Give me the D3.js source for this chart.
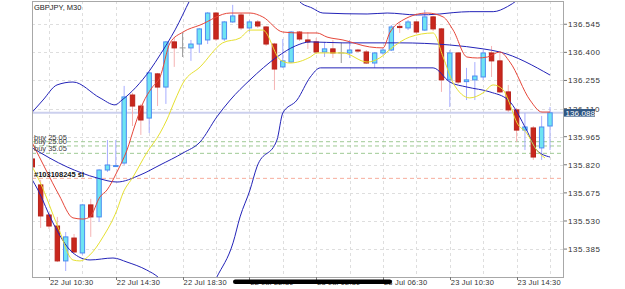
<!DOCTYPE html>
<html>
<head>
<meta charset="utf-8">
<script src="https://cdn.jsdelivr.net/npm/d3@7"></script>
<style>
  body { margin: 0; background: #fff; }
  svg { display: block; font-family: "Liberation Sans", Arial, sans-serif; }
</style>
</head>
<body>
<div id="chart"></div>
<script>
// GBPJPY M30 candles, 22 Jul 09:30 .. 23 Jul 16:30 (index 0 = first bar)
const symbol = "GBPJPY, M30";
const opens  = [135.850,135.716,135.561,135.504,135.324,135.442,135.365,135.613,135.551,135.793,
                135.811,135.829,136.180,136.123,136.061,136.289,136.221,136.454,136.423,136.423,
                136.443,136.464,136.603,136.469,136.557,136.593,136.526,136.557,136.531,136.443,
                136.325,136.350,136.505,136.464,136.454,136.402,136.418,136.397,136.397,136.412,
                136.402,136.345,136.397,136.412,136.534,136.526,136.557,136.515,136.583,136.521,
                136.258,136.397,136.249,136.258,136.273,136.397,136.356,136.196,136.103,135.999,
                136.010,135.907,136.020];
const highs  = [135.865,135.742,135.571,135.551,135.473,135.463,135.618,135.644,135.798,135.948,
                135.948,136.227,136.191,136.134,136.299,136.294,136.459,136.479,136.500,136.464,
                136.526,136.608,136.608,136.562,136.645,136.603,136.567,136.567,136.536,136.449,
                136.469,136.510,136.510,136.505,136.474,136.454,136.464,136.449,136.464,136.418,
                136.412,136.402,136.423,136.541,136.557,136.567,136.562,136.619,136.588,136.526,
                136.412,136.402,136.320,136.350,136.412,136.433,136.397,136.232,136.113,136.087,
                136.020,136.072,136.118];
const lows   = [135.798,135.494,135.489,135.318,135.272,135.365,135.355,135.448,135.525,135.783,
                135.809,135.819,136.020,135.974,135.984,136.123,136.134,136.325,136.376,136.356,
                136.397,136.443,136.459,136.459,136.552,136.515,136.505,136.526,136.433,136.206,
                136.320,136.345,136.459,136.418,136.392,136.376,136.371,136.345,136.371,136.402,
                136.340,136.320,136.387,136.407,136.500,136.515,136.495,136.510,136.510,136.196,
                136.118,136.237,136.154,136.154,136.258,136.273,136.191,136.092,135.938,135.896,
                135.845,135.845,135.896];
const closes = [135.809,135.556,135.504,135.324,135.448,135.370,135.613,135.551,135.793,135.819,
                135.816,136.170,136.123,136.051,136.294,136.221,136.454,136.423,136.423,136.443,
                136.521,136.603,136.469,136.557,136.588,136.526,136.557,136.536,136.443,136.314,
                136.356,136.505,136.469,136.454,136.402,136.418,136.397,136.397,136.412,136.407,
                136.345,136.397,136.412,136.531,136.528,136.557,136.505,136.583,136.521,136.258,
                136.397,136.247,136.258,136.278,136.397,136.356,136.196,136.103,135.999,136.015,
                135.860,136.015,136.088];

// indicator lines, [bar index, price]
const maFast = [[0,135.933],[1.64,135.793],[3.2,135.664],[4.87,135.546],[6.07,135.540],[6.9,135.551],
  [8.1,135.654],[8.95,135.690],[10.14,135.783],[11.34,135.896],[12.3,136.025],[13.26,136.139],
  [14.3,136.216],[15.3,136.273],[16.5,136.449],[18.05,136.505],[20.1,136.541],[23.7,136.603],
  [26.07,136.603],[27.6,136.583],[30,136.505],[32.06,136.500],[34.1,136.500],[35.3,136.479],
  [37.2,136.464],[40.4,136.428],[42,136.423],[42.8,136.500],[44.4,136.567],[47.3,136.603],
  [49.2,136.583],[50.4,136.515],[52.06,136.376],[53.3,136.371],[54.5,136.376],[56,136.402],
  [57.2,136.350],[59.6,136.154],[61.04,136.092],[62,136.092]];
const maSlow = [[0,135.809],[0.92,135.731],[3.08,135.499],[4.87,135.329],[5.7,135.324],[6.9,135.355],
  [8.47,135.448],[10.14,135.587],[10.87,135.675],[12.06,135.757],[13.7,135.881],[15.3,135.984],
  [16.1,136.051],[17.1,136.154],[18.05,136.242],[20.1,136.325],[22.8,136.449],[24.88,136.474],
  [26.07,136.515],[27.6,136.515],[29.7,136.361],[30.86,136.345],[33.3,136.376],[34.1,136.397],
  [37.2,136.397],[40.1,136.350],[41.6,136.371],[43.2,136.428],[45.2,136.479],[48,136.500],
  [49.2,136.376],[50.4,136.242],[52.4,136.165],[53.98,136.191],[55.2,136.232],[56.4,136.206],
  [57,136.154],[58.05,136.036],[59.2,135.984],[60.4,135.896],[61.4,135.855]];
const bbUpper = [[0,136.092],[1.28,136.154],[2.96,136.232],[4.87,136.247],[8.11,136.165],[9.9,136.129],
  [10.74,136.154],[14.1,136.309],[15.3,136.387],[17.1,136.516],[18.88,136.670],[19.5,136.722],
  [31.3,136.722],[32.06,136.660],[33.5,136.629],[34.8,136.603],[40.1,136.598],[42.5,136.603],
  [46.1,136.593],[48.8,136.598],[50.4,136.605],[52.4,136.610],[55.2,136.610],[56.9,136.636],
  [58.1,136.670],[59.6,136.732]];
const bbMiddle = [[0,135.907],[4.16,135.809],[7.75,135.752],[10.14,135.731],[12.9,135.767],[15.3,135.819],
  [18.05,135.881],[20.1,135.938],[22.1,136.067],[23.7,136.154],[26.07,136.258],[29.3,136.376],
  [31.5,136.433],[33.3,136.454],[37.2,136.449],[44,136.449],[50,136.438],[53.98,136.418],
  [56,136.402],[62,136.283]];
const bbLower = [[0,135.742],[0.68,135.690],[2.48,135.520],[4.75,135.370],[6.91,135.329],[9.66,135.339],
  [11.34,135.318],[13.7,135.277],[15.05,135.241],[16.5,135.174],[21.3,135.174],[22.1,135.241],
  [24.04,135.417],[24.88,135.551],[26.07,135.690],[26.9,135.809],[29.3,135.948],[30,136.087],
  [31.7,136.154],[33.3,136.273],[34.5,136.320],[40.1,136.320],[48,136.320],[50,136.247],
  [52.06,136.221],[54.8,136.196],[57,136.154],[59.2,135.999],[60.4,135.896],[62,135.860]];

const priceTicks = [136.545, 136.400, 136.255, 136.110, 135.965, 135.820, 135.675, 135.530, 135.385];
const timeTickIdx = [2, 10, 18, 26, 34, 42, 50, 58];
const timeLabels = ["22 Jul 10:30", "22 Jul 14:30", "22 Jul 18:30", "22 Jul 22:30",
                    "23 Jul 02:30", "23 Jul 06:30", "23 Jul 10:30", "23 Jul 14:30"];
const lastPrice = 136.088;
const orderLevels = [135.939, 135.917, 135.879];
const orderLabels = ["buy 25.05", "buy 25.00", "buy 35.05"];
const slLevel = 135.750;
const slLabel = "#103108245 sl";

const width = 625, height = 289;
const plot = { left: 32, right: 564, top: 1, bottom: 277 };

const x = d3.scaleLinear().domain([0, 62]).range([32.3, 550]);
const y = d3.scaleLinear().domain([135.241, 136.665]).range([plot.bottom, plot.top]);

const svg = d3.select("#chart").append("svg")
    .attr("width", width)
    .attr("height", height);

svg.append("defs").append("clipPath").attr("id", "clip")
    .append("rect")
    .attr("x", plot.left).attr("y", plot.top)
    .attr("width", plot.right - plot.left).attr("height", plot.bottom - plot.top);

// grid
const grid = svg.append("g").attr("stroke", "#dedede").attr("stroke-dasharray", "3,3");
grid.selectAll(".hg").data(priceTicks).join("line")
    .attr("x1", plot.left).attr("x2", plot.right)
    .attr("y1", d => Math.round(y(d)) + 0.5).attr("y2", d => Math.round(y(d)) + 0.5);
grid.selectAll(".vg").data(d3.range(2, 63, 4)).join("line")
    .attr("y1", plot.top).attr("y2", plot.bottom)
    .attr("x1", d => Math.round(x(d)) + 0.5).attr("x2", d => Math.round(x(d)) + 0.5);

const chart = svg.append("g").attr("clip-path", "url(#clip)");

// current price line
chart.append("line")
    .attr("x1", plot.left).attr("x2", plot.right)
    .attr("y1", y(lastPrice)).attr("y2", y(lastPrice))
    .attr("stroke", "#ccd0ee").attr("stroke-width", 2);

// order lines
chart.selectAll(".ord").data(orderLevels).join("line")
    .attr("x1", plot.left).attr("x2", plot.right)
    .attr("y1", d => y(d)).attr("y2", d => y(d))
    .attr("stroke", "#9fca94").attr("stroke-dasharray", "4,3");
chart.append("line")
    .attr("x1", plot.left).attr("x2", plot.right)
    .attr("y1", y(slLevel)).attr("y2", y(slLevel))
    .attr("stroke", "#f7ad9c").attr("stroke-dasharray", "4,3");

// candles
const bars = d3.range(opens.length);
chart.selectAll(".wick").data(bars).join("line")
    .attr("x1", i => x(i)).attr("x2", i => x(i))
    .attr("y1", i => y(highs[i])).attr("y2", i => y(lows[i]))
    .attr("stroke", i => closes[i] > opens[i] ? "#a7adff" : closes[i] < opens[i] ? "#f5b3b3" : "#999")
    .attr("stroke-width", 1);

chart.selectAll(".body").data(bars.filter(i => opens[i] !== closes[i])).join("rect")
    .attr("x", i => x(i) - 2.2)
    .attr("width", 4.4)
    .attr("y", i => y(Math.max(opens[i], closes[i])))
    .attr("height", i => Math.max(1, Math.abs(y(opens[i]) - y(closes[i]))))
    .attr("fill", i => closes[i] > opens[i] ? "#6ee4f2" : "#c9271d")
    .attr("stroke", i => closes[i] > opens[i] ? "#4d8cf0" : "#b8221a")
    .attr("stroke-width", 1);

chart.selectAll(".doji").data(bars.filter(i => opens[i] === closes[i])).join("line")
    .attr("x1", i => x(i) - 3).attr("x2", i => x(i) + 3)
    .attr("y1", i => y(opens[i])).attr("y2", i => y(opens[i]))
    .attr("stroke", "#999");

// indicators
const line = d3.line().x(d => x(d[0])).y(d => y(d[1])).curve(d3.curveMonotoneX);
[[bbUpper, "#2323b8"], [bbMiddle, "#2323b8"], [bbLower, "#2323b8"],
 [maSlow, "#e6e030"], [maFast, "#e6473a"]].forEach(([data, color]) => {
    chart.append("path")
        .datum(data)
        .attr("fill", "none")
        .attr("stroke", color)
        .attr("stroke-width", 1)
        .attr("d", line);
});

// order labels
svg.selectAll(".ordlab").data(orderLevels).join("text")
    .attr("x", 34).attr("y", d => y(d) - 2)
    .attr("font-size", 7.5).attr("fill", "#444")
    .text((d, i) => orderLabels[i]);
svg.append("text")
    .attr("x", 34).attr("y", y(slLevel) - 1.5)
    .attr("font-size", 7.5).attr("font-weight", "bold").attr("fill", "#111")
    .text(slLabel);

// frame
svg.append("rect")
    .attr("x", plot.left + 0.5).attr("y", plot.top + 0.5)
    .attr("width", plot.right - plot.left - 1).attr("height", plot.bottom - plot.top)
    .attr("fill", "none").attr("stroke", "#a8a8a8");

// title
svg.append("text")
    .attr("x", 34).attr("y", 9.5)
    .attr("font-size", 7.5).attr("fill", "#222")
    .text(symbol);

// price axis
const yAxis = svg.append("g");
yAxis.selectAll("line").data(priceTicks).join("line")
    .attr("x1", plot.right).attr("x2", plot.right + 3)
    .attr("y1", d => y(d)).attr("y2", d => y(d))
    .attr("stroke", "#777");
yAxis.selectAll("text").data(priceTicks).join("text")
    .attr("x", plot.right + 4).attr("y", d => y(d) + 3)
    .attr("font-size", 8).attr("letter-spacing", 0.5).attr("fill", "#333")
    .text(d => d.toFixed(3));

// last price tag
svg.append("rect")
    .attr("x", plot.right).attr("y", y(lastPrice) - 3.8)
    .attr("width", 31).attr("height", 7.6)
    .attr("fill", "#2f5683");
svg.append("text")
    .attr("x", plot.right + 1.5).attr("y", y(lastPrice) + 2.9)
    .attr("font-size", 8).attr("letter-spacing", 0.1).attr("fill", "#fff")
    .text(lastPrice.toFixed(3));

// time axis
const xAxis = svg.append("g");
xAxis.selectAll("line").data(timeTickIdx).join("line")
    .attr("x1", d => Math.round(x(d)) + 0.5).attr("x2", d => Math.round(x(d)) + 0.5)
    .attr("y1", plot.bottom).attr("y2", plot.bottom + 3)
    .attr("stroke", "#777");
xAxis.selectAll("text").data(timeTickIdx).join("text")
    .attr("x", d => x(d) + 1).attr("y", 285)
    .attr("font-size", 7.5).attr("letter-spacing", 0.2).attr("fill", "#333")
    .text((d, i) => timeLabels[i]);

// phone home-indicator bar over the axis
svg.append("rect")
    .attr("x", 233).attr("y", 279.5)
    .attr("width", 159).attr("height", 4.6).attr("rx", 2.3)
    .attr("fill", "#000");
</script>
</body>
</html>
